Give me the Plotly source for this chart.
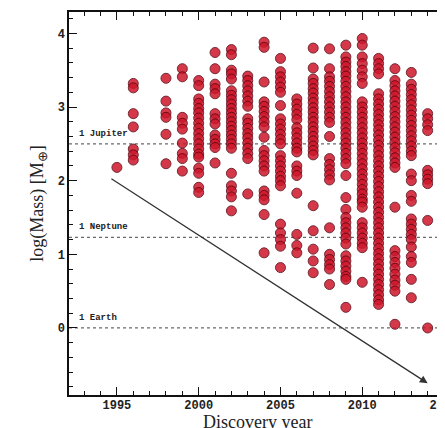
import plotly.graph_objects as go

# ---- data ----
YEARS = [1995, 1996, 1998, 1999, 2000, 2001, 2002, 2003, 2004, 2005, 2006,
         2007, 2008, 2009, 2010, 2011, 2012, 2013, 2014]

M1995 = [2.18]
M1996 = [3.32, 3.26, 2.91, 2.73, 2.43, 2.35, 2.28]
M1998 = [3.39, 3.08, 2.92, 2.86, 2.63, 2.23]
M1999 = [3.52, 3.41, 2.86, 2.78, 2.70, 2.51, 2.37, 2.30, 2.13]
M2000 = [3.36, 3.29, 3.11, 3.05, 2.98, 2.92, 2.85, 2.78, 2.71, 2.64, 2.57,
         2.50, 2.43, 2.36, 2.32, 2.17, 2.10, 1.91, 1.84]
M2001 = [3.74, 3.52, 3.31, 3.25, 3.18, 2.91, 2.84, 2.77, 2.62, 2.56, 2.50,
         2.45, 2.24]
M2002 = [3.78, 3.71, 3.50, 3.45, 3.38, 3.22, 3.16, 3.10, 3.04, 2.98, 2.92,
         2.86, 2.80, 2.74, 2.68, 2.62, 2.56, 2.50, 2.44, 2.10, 1.93, 1.86,
         1.78, 1.59]
M2003 = [3.42, 3.36, 3.29, 3.22, 3.15, 3.08, 3.01, 2.84, 2.78, 2.71, 2.64,
         2.58, 2.51, 2.44, 2.37, 2.30, 1.82]
M2004 = [3.88, 3.81, 3.34, 3.07, 3.01, 2.94, 2.87, 2.80, 2.73, 2.59, 2.41,
         2.34, 2.27, 2.20, 2.13, 1.86, 1.80, 1.74, 1.54, 1.02]
M2005 = [3.66, 3.48, 3.41, 3.34, 3.27, 3.20, 3.02, 2.84, 2.77, 2.70, 2.63,
         2.56, 2.50, 2.34, 2.27, 2.20, 2.13, 2.06, 2.00, 1.93, 1.41, 1.29,
         1.20, 1.11, 0.82]
M2006 = [3.11, 3.04, 2.97, 2.90, 2.83, 2.72, 2.65, 2.58, 2.51, 2.44, 2.39,
         2.20, 2.13, 2.07, 1.83, 1.27, 1.12, 1.02]
M2007 = [3.80, 3.53, 3.38, 3.32, 3.25, 3.19, 3.12, 3.06, 2.99, 2.93, 2.86,
         2.80, 2.73, 2.67, 2.60, 2.54, 2.47, 2.41, 2.35, 1.66, 1.32, 1.07,
         0.91, 0.75]
M2008 = [3.79, 3.52, 3.41, 3.35, 3.28, 3.21, 3.14, 3.07, 3.00, 2.93, 2.86,
         2.79, 2.60, 2.30, 2.22, 2.15, 2.08, 2.01, 1.36, 1.00, 0.93, 0.86,
         0.80, 0.59]
M2009 = [3.84, 3.68, 3.61, 3.55, 3.48, 3.42, 3.35, 3.28, 3.21, 3.14, 3.07,
         3.00, 2.93, 2.86, 2.79, 2.72, 2.65, 2.58, 2.51, 2.44, 2.37, 2.30,
         2.23, 2.07, 1.77, 1.61, 1.50, 1.43, 1.36, 1.29, 1.22, 1.14, 0.98,
         0.91, 0.84, 0.77, 0.70, 0.66, 0.28]
M2010 = [3.93, 3.84, 3.68, 3.59, 3.50, 3.41, 3.32, 3.07, 3.00, 2.93, 2.86,
         2.79, 2.72, 2.65, 2.58, 2.51, 2.44, 2.37, 2.30, 2.23, 2.16, 2.09,
         2.02, 1.95, 1.88, 1.82, 1.75, 1.71, 1.64, 1.43, 1.36, 1.29, 1.22,
         1.15, 1.09, 0.62]
M2011 = [3.66, 3.59, 3.52, 3.45, 3.18, 3.11, 3.04, 2.97, 2.90, 2.83, 2.76,
         2.69, 2.62, 2.55, 2.48, 2.41, 2.34, 2.27, 2.20, 2.13, 2.06, 1.99,
         1.92, 1.85, 1.78, 1.71, 1.64, 1.57, 1.50, 1.43, 1.36, 1.29, 1.22,
         1.15, 1.08, 1.01, 0.94, 0.87, 0.80, 0.73, 0.66, 0.59, 0.52, 0.45,
         0.38, 0.32]
M2012 = [3.52, 3.36, 3.29, 3.22, 3.15, 3.08, 3.01, 2.94, 2.87, 2.80, 2.73,
         2.66, 2.59, 2.52, 2.45, 2.38, 2.31, 2.24, 2.18, 1.64, 1.05, 0.97,
         0.89, 0.81, 0.73, 0.65, 0.58, 0.50, 0.05]
M2013 = [3.47, 3.31, 3.24, 3.17, 3.10, 3.03, 2.96, 2.89, 2.82, 2.75, 2.68,
         2.61, 2.54, 2.47, 2.40, 2.34, 2.09, 2.00, 1.80, 1.72, 1.48, 1.41,
         1.34, 1.27, 1.20, 1.10, 0.97, 0.89, 0.66, 0.41]
M2014 = [2.91, 2.84, 2.76, 2.68, 2.14, 2.08, 2.02, 1.96, 1.46, 0.0]

MASSES = [M1995, M1996, M1998, M1999, M2000, M2001, M2002, M2003, M2004,
          M2005, M2006, M2007, M2008, M2009, M2010, M2011, M2012, M2013, M2014]

REF_NAMES = ["1 Jupiter", "1 Neptune", "1 Earth"]
REF_LOGMASS = [2.50, 1.23, 0.0]

ARROW_START = (1994.57, 2.04)
ARROW_END = (2014.0, -0.75)

X_TICKS = [1995, 2000, 2005, 2010, 2015]
Y_TICKS = [0, 1, 2, 3, 4]

# ---- build ----
xs, ys = [], []
for yr, vals in zip(YEARS, MASSES):
    xs += [yr] * len(vals)
    ys += vals

FONT = "Liberation Mono"

fig = go.Figure()
fig.add_trace(go.Scatter(
    x=xs, y=ys, mode="markers",
    marker=dict(size=10, color="rgb(206,22,42)", opacity=0.85,
                line=dict(color="rgb(95,5,18)", width=1)),
    showlegend=False, hoverinfo="skip"))

for name, val in zip(REF_NAMES, REF_LOGMASS):
    fig.add_shape(type="line", xref="paper", x0=0, x1=1, yref="y", y0=val, y1=val,
                  line=dict(color="#6a6a6a", width=1.2, dash="dot"), layer="below")
    fig.add_annotation(x=0.022, xref="paper", xanchor="left", y=val, yref="y",
                       yshift=10, text="<b>" + name + "</b>", showarrow=False,
                       font=dict(family=FONT, size=9, color="#222"))

fig.add_annotation(x=ARROW_END[0], y=ARROW_END[1], ax=ARROW_START[0], ay=ARROW_START[1],
                   xref="x", yref="y", axref="x", ayref="y", text="",
                   showarrow=True, arrowhead=2, arrowsize=1.2, arrowwidth=1.3,
                   arrowcolor="#333")

# x-axis title placed as an annotation so it can sit partly below the edge
fig.add_annotation(x=0.5, xref="paper", y=0, yref="paper", yanchor="top", yshift=-15,
                   text="Discovery year", showarrow=False,
                   font=dict(family="Liberation Serif", size=18, color="#222"))

axis_common = dict(showline=True, linecolor="#111", linewidth=1.5,
                   ticks="inside", ticklen=8, tickwidth=1.3, tickcolor="#111",
                   showgrid=False, zeroline=False, automargin=False,
                   tickfont=dict(family=FONT, size=12, color="#222", weight="bold"))

fig.update_xaxes(range=[1992.07, 2015.06], tickvals=X_TICKS, mirror="allticks",
                 minor=dict(dtick=1, tick0=1995, ticks="inside", ticklen=4,
                            tickwidth=1.1, tickcolor="#111"),
                 ticklabelstandoff=-2, ticklabeloverflow="allow",
                 **axis_common)
fig.update_yaxes(range=[-0.91, 4.29], tickvals=Y_TICKS, mirror=False,
                 minor=dict(dtick=0.2, tick0=0, ticks="inside", ticklen=4,
                            tickwidth=1.1, tickcolor="#111"),
                 title=dict(text="log(Mass) [M<sub>⊕</sub>]", standoff=9,
                            font=dict(family="Liberation Serif", size=18, color="#222")),
                 **axis_common)

# the page body adds an 8px offset, so the figure is sized to fill the rest
fig.update_layout(width=437, height=420, margin=dict(l=61, r=0, t=4, b=33),
                  paper_bgcolor="white", plot_bgcolor="white")

fig.write_html("out.html")
